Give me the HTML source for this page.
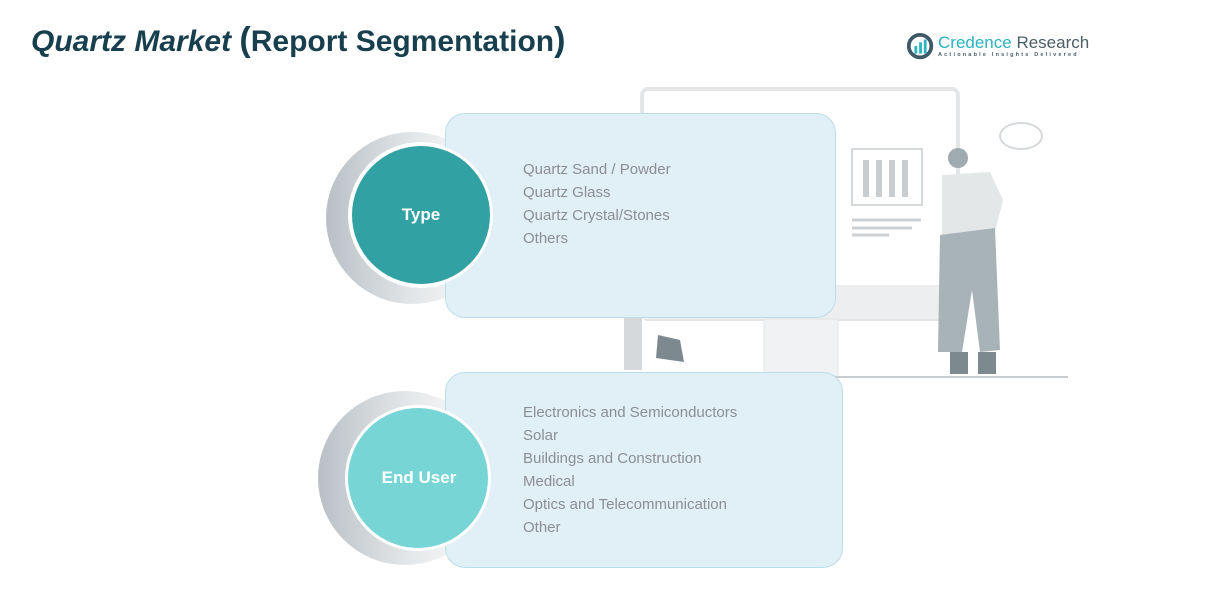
<!DOCTYPE html>
<html><head><meta charset="utf-8"><style>
body{margin:0;width:1215px;height:607px;background:#fff;position:relative;overflow:hidden;font-family:"Liberation Sans",sans-serif}
.t{position:absolute;left:31px;top:21px;font-size:30px;font-weight:bold;color:#173f4d;white-space:nowrap}
.box{position:absolute;background:#e1eff7;border:1.5px solid #bcdeea;border-radius:20px}
.list{position:absolute;left:523px;color:#8a8f93;font-size:15px;line-height:23px}
.lab{position:absolute;color:#fff;font-weight:bold;font-size:17px;text-align:center}
</style></head><body>
<div class="t"><i>Quartz Market</i> <span style="font-size:34px">(</span>Report Segmentation<span style="font-size:34px">)</span></div>
<svg style="position:absolute;left:906px;top:32px" width="30" height="30" viewBox="0 0 32 32"><circle cx="15" cy="15" r="12" fill="none" stroke="#3d5866" stroke-width="4"/><rect x="9" y="15" width="3" height="8" fill="#2bb3c0"/><rect x="14" y="11" width="3" height="12" fill="#2bb3c0"/><rect x="19" y="8" width="3" height="15" fill="#2bb3c0"/></svg>
<div style="position:absolute;left:938px;top:33px;font-size:17px;color:#2bb3c0;white-space:nowrap">Credence <span style="color:#4a5e68">Research</span></div>
<div style="position:absolute;left:938px;top:52px;font-size:5.5px;letter-spacing:2.2px;color:#4a5e68;white-space:nowrap;font-weight:bold">Actionable Insights Delivered</div>

<svg style="position:absolute;left:0;top:0" width="1215" height="607">
<defs><linearGradient id="g" x1="0" y1="0" x2="1" y2="0"><stop offset="0" stop-color="#b9c0c5"/><stop offset="0.5" stop-color="#e3e6e8"/><stop offset="1" stop-color="#fff"/></linearGradient></defs>
<rect x="642" y="89" width="316" height="230" rx="6" fill="#fff" stroke="#e3e5e6" stroke-width="4"/>
<rect x="642" y="285" width="316" height="34" fill="#eceeef"/>
<rect x="764" y="319" width="74" height="58" fill="#f1f2f3" stroke="#e3e5e6"/>
<line x1="600" y1="377" x2="1068" y2="377" stroke="#c9cdd0" stroke-width="2"/>
<rect x="852" y="149" width="70" height="56" fill="none" stroke="#d6d9db" stroke-width="2"/>
<rect x="863" y="160" width="6" height="37" fill="#c9cdd0"/><rect x="876" y="160" width="6" height="37" fill="#c9cdd0"/><rect x="889" y="160" width="6" height="37" fill="#c9cdd0"/><rect x="902" y="160" width="6" height="37" fill="#c9cdd0"/>
<line x1="852" y1="220" x2="921" y2="220" stroke="#cfd2d4" stroke-width="3"/><line x1="852" y1="228" x2="912" y2="228" stroke="#cfd2d4" stroke-width="3"/><line x1="852" y1="235" x2="889" y2="235" stroke="#cfd2d4" stroke-width="3"/>
<ellipse cx="1021" cy="136" rx="21" ry="13" fill="none" stroke="#d6d9db" stroke-width="2"/>
<circle cx="958" cy="158" r="10" fill="#a0abb0"/>
<path d="M942 175 L990 172 L1003 200 L995 232 L942 236 Z" fill="#e4e7e8"/>
<path d="M940 235 L995 228 L1000 350 L980 352 L972 290 L962 352 L938 352 Z" fill="#a8b3b8"/>
<rect x="950" y="352" width="18" height="22" fill="#7c8a90"/><rect x="978" y="352" width="18" height="22" fill="#7c8a90"/>
<rect x="624" y="318" width="18" height="52" fill="#d6d9db"/><path d="M658 335 L680 340 L684 362 L656 358 Z" fill="#7c8a90"/>
<circle cx="412" cy="218" r="86" fill="url(#g)"/>
<circle cx="421" cy="215" r="73" fill="#fff"/>
<circle cx="405" cy="478" r="87" fill="url(#g)"/>
</svg>
<div class="box" style="left:445px;top:113px;width:389px;height:203px"></div>
<div class="box" style="left:445px;top:372px;width:396px;height:194px"></div>
<svg style="position:absolute;left:0;top:0" width="1215" height="607">
<circle cx="421" cy="215" r="72" fill="#fff"/>
<circle cx="421" cy="215" r="69" fill="#31a1a3"/>
<circle cx="418" cy="478" r="73" fill="#fff"/>
<circle cx="418" cy="478" r="70" fill="#77d5d6"/>
</svg>
<div class="lab" style="left:371px;top:205px;width:100px">Type</div>
<div class="lab" style="left:359px;top:468px;width:120px">End User</div>
<div class="list" style="top:158px">Quartz Sand / Powder<br>Quartz Glass<br>Quartz Crystal/Stones<br>Others</div>
<div class="list" style="top:401px">Electronics and Semiconductors<br>Solar<br>Buildings and Construction<br>Medical<br>Optics and Telecommunication<br>Other</div>
</body></html>
